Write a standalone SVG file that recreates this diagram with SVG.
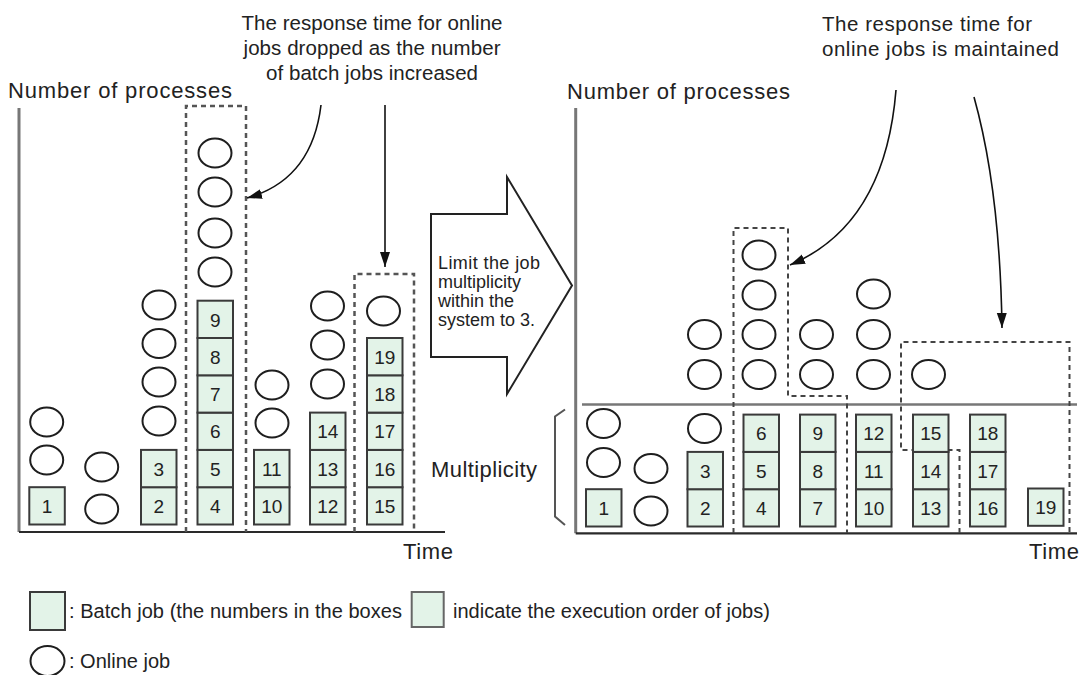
<svg xmlns="http://www.w3.org/2000/svg" width="1081" height="675" viewBox="0 0 1081 675">
<defs>
<style>
text{font-family:"Liberation Sans",Arial,sans-serif;fill:#222}
.lbl{font-size:22px}
.ann{font-size:20.5px}
.leg{font-size:20px}
.num{font-size:19px;text-anchor:middle}
.b{fill:#e3f3e8;stroke:#3a3a3a;stroke-width:2}
.c{fill:#fff;stroke:#1e1e1e;stroke-width:2}
.axy{stroke:#777;stroke-width:3;fill:none}
.axx{stroke:#2a2a2a;stroke-width:2.2;fill:none}
.dash{stroke:#444;stroke-width:2;stroke-dasharray:5 4;fill:none}
.dashL{stroke:#555;stroke-width:2.5;stroke-dasharray:5 4;fill:none}
.con{stroke:#111;stroke-width:1.6;fill:none}
</style>
<marker id="ah" markerWidth="16" markerHeight="12" refX="15" refY="6" orient="auto" markerUnits="userSpaceOnUse">
<path d="M0,1 L15,6 L0,11 Z" fill="#111"/>
</marker>
<symbol id="bx" overflow="visible"><rect class="b" x="0" y="0" width="35.5" height="37.3"/></symbol>
</defs>

<g id="labels">
<text class="lbl" x="8" y="98" textLength="224" lengthAdjust="spacing">Number of processes</text>
<text class="lbl" x="567" y="99" textLength="223" lengthAdjust="spacing">Number of processes</text>
<text class="lbl" x="403" y="559" textLength="50" lengthAdjust="spacing">Time</text>
<text class="lbl" x="1029" y="559" textLength="50" lengthAdjust="spacing">Time</text>
<text class="lbl" x="431" y="477" textLength="106" lengthAdjust="spacing">Multiplicity</text>
</g>

<g id="annotation-left">
<text class="ann" x="372" y="30" text-anchor="middle" textLength="261" lengthAdjust="spacing">The response time for online</text>
<text class="ann" x="372" y="55" text-anchor="middle" textLength="257" lengthAdjust="spacing">jobs dropped as the number</text>
<text class="ann" x="372" y="80" text-anchor="middle" textLength="212" lengthAdjust="spacing">of batch jobs increased</text>
</g>
<g id="annotation-right">
<text class="ann" x="822" y="31" textLength="210" lengthAdjust="spacing">The response time for</text>
<text class="ann" x="822" y="56" textLength="237" lengthAdjust="spacing">online jobs is maintained</text>
</g>

<g id="big-arrow">
<path d="M431,214 H507 V177 L572,285.5 L507,394 V357 H431 Z" fill="#fff" stroke="#222" stroke-width="2"/>
<text x="438" y="269" font-size="18" textLength="102" lengthAdjust="spacing">Limit the job</text>
<text x="438" y="288" font-size="18">multiplicity</text>
<text x="438" y="307" font-size="18">within the</text>
<text x="438" y="326" font-size="18">system to 3.</text>
</g>

<g id="chart-left">
<path class="axy" d="M19,108 V532"/>
<path class="axx" d="M19,532 H445"/>
<path class="dashL" d="M186,532 V106 H246 V532"/>
<path class="dashL" d="M354.5,532 V274 H414 V532"/>
<g id="L-col1">
<use href="#bx" x="29.3" y="487.2"/><text class="num" x="47" y="513">1</text>
<ellipse class="c" cx="46.7" cy="460" rx="16.5" ry="14.5"/>
<ellipse class="c" cx="46.7" cy="422" rx="16.5" ry="14.5"/>
</g>
<g id="L-col2">
<ellipse class="c" cx="101.7" cy="509" rx="16.5" ry="14.5"/>
<ellipse class="c" cx="101.7" cy="467" rx="16.5" ry="14.5"/>
</g>
<g id="L-col3">
<use href="#bx" x="141" y="487.2"/><text class="num" x="158.8" y="513">2</text>
<use href="#bx" x="141" y="449.9"/><text class="num" x="158.8" y="475.7">3</text>
<ellipse class="c" cx="159" cy="421" rx="16.5" ry="14.5"/>
<ellipse class="c" cx="159" cy="382" rx="16.5" ry="14.5"/>
<ellipse class="c" cx="159" cy="343.5" rx="16.5" ry="14.5"/>
<ellipse class="c" cx="159" cy="305" rx="16.5" ry="14.5"/>
</g>
<g id="L-col4">
<use href="#bx" x="197.5" y="487.2"/><text class="num" x="215.3" y="513">4</text>
<use href="#bx" x="197.5" y="449.9"/><text class="num" x="215.3" y="475.7">5</text>
<use href="#bx" x="197.5" y="412.6"/><text class="num" x="215.3" y="438.4">6</text>
<use href="#bx" x="197.5" y="375.3"/><text class="num" x="215.3" y="401.1">7</text>
<use href="#bx" x="197.5" y="338"/><text class="num" x="215.3" y="363.8">8</text>
<use href="#bx" x="197.5" y="300.7"/><text class="num" x="215.3" y="326.5">9</text>
<ellipse class="c" cx="215" cy="272" rx="16.5" ry="14.5"/>
<ellipse class="c" cx="215" cy="233" rx="16.5" ry="14.5"/>
<ellipse class="c" cx="215" cy="192" rx="16.5" ry="14.5"/>
<ellipse class="c" cx="215" cy="153" rx="16.5" ry="14.5"/>
</g>
<g id="L-col5">
<use href="#bx" x="254" y="487.2"/><text class="num" x="271.8" y="513">10</text>
<use href="#bx" x="254" y="449.9"/><text class="num" x="271.8" y="475.7">11</text>
<ellipse class="c" cx="272" cy="423" rx="16.5" ry="14.5"/>
<ellipse class="c" cx="272" cy="385" rx="16.5" ry="14.5"/>
</g>
<g id="L-col6">
<use href="#bx" x="310" y="487.2"/><text class="num" x="327.8" y="513">12</text>
<use href="#bx" x="310" y="449.9"/><text class="num" x="327.8" y="475.7">13</text>
<use href="#bx" x="310" y="412.6"/><text class="num" x="327.8" y="438.4">14</text>
<ellipse class="c" cx="327.5" cy="384" rx="16.5" ry="14.5"/>
<ellipse class="c" cx="327.5" cy="345" rx="16.5" ry="14.5"/>
<ellipse class="c" cx="327.5" cy="306" rx="16.5" ry="14.5"/>
</g>
<g id="L-col7">
<use href="#bx" x="367" y="487.2"/><text class="num" x="384.8" y="513">15</text>
<use href="#bx" x="367" y="449.9"/><text class="num" x="384.8" y="475.7">16</text>
<use href="#bx" x="367" y="412.6"/><text class="num" x="384.8" y="438.4">17</text>
<use href="#bx" x="367" y="375.3"/><text class="num" x="384.8" y="401.1">18</text>
<use href="#bx" x="367" y="338"/><text class="num" x="384.8" y="363.8">19</text>
<ellipse class="c" cx="383.5" cy="311" rx="16.5" ry="14.5"/>
</g>
</g>

<g id="chart-right">
<path class="axy" d="M575.7,108 V533.3"/>
<path class="axx" d="M575.7,533.3 H1077"/>
<path d="M582,404.5 H1077" stroke="#777" stroke-width="2.5" fill="none"/>
<path d="M565,409.5 L555,416.5 V516.5 L565,525" stroke="#555" stroke-width="2" fill="none"/>
<path class="dash" d="M733.5,533 V228 H788 V396 H847 V533"/>
<path class="dash" d="M959.5,533 V450 H901 V342 H1069.5 V533"/>
<g id="R-col1">
<use href="#bx" x="586" y="489.2"/><text class="num" x="603.8" y="515">1</text>
<ellipse class="c" cx="603.5" cy="462.5" rx="16.5" ry="14.5"/>
<ellipse class="c" cx="603.5" cy="423.5" rx="16.5" ry="14.5"/>
</g>
<g id="R-col2">
<ellipse class="c" cx="651" cy="511" rx="16.5" ry="14.5"/>
<ellipse class="c" cx="651" cy="468.5" rx="16.5" ry="14.5"/>
</g>
<g id="R-col3">
<use href="#bx" x="687.5" y="489.2"/><text class="num" x="705.3" y="515">2</text>
<use href="#bx" x="687.5" y="451.9"/><text class="num" x="705.3" y="477.7">3</text>
<ellipse class="c" cx="704.5" cy="428.5" rx="16.5" ry="14.5"/>
<ellipse class="c" cx="704.5" cy="374.5" rx="16.5" ry="14.5"/>
<ellipse class="c" cx="704.5" cy="334.5" rx="16.5" ry="14.5"/>
</g>
<g id="R-col4">
<use href="#bx" x="743.5" y="489.2"/><text class="num" x="761.3" y="515">4</text>
<use href="#bx" x="743.5" y="451.9"/><text class="num" x="761.3" y="477.7">5</text>
<use href="#bx" x="743.5" y="414.6"/><text class="num" x="761.3" y="440.4">6</text>
<ellipse class="c" cx="759" cy="374.5" rx="16.5" ry="14.5"/>
<ellipse class="c" cx="759" cy="334.5" rx="16.5" ry="14.5"/>
<ellipse class="c" cx="759" cy="295" rx="16.5" ry="14.5"/>
<ellipse class="c" cx="759" cy="255" rx="16.5" ry="14.5"/>
</g>
<g id="R-col5">
<use href="#bx" x="800" y="489.2"/><text class="num" x="817.8" y="515">7</text>
<use href="#bx" x="800" y="451.9"/><text class="num" x="817.8" y="477.7">8</text>
<use href="#bx" x="800" y="414.6"/><text class="num" x="817.8" y="440.4">9</text>
<ellipse class="c" cx="816.5" cy="374.5" rx="16.5" ry="14.5"/>
<ellipse class="c" cx="816.5" cy="334.5" rx="16.5" ry="14.5"/>
</g>
<g id="R-col6">
<use href="#bx" x="856" y="489.2"/><text class="num" x="873.8" y="515">10</text>
<use href="#bx" x="856" y="451.9"/><text class="num" x="873.8" y="477.7">11</text>
<use href="#bx" x="856" y="414.6"/><text class="num" x="873.8" y="440.4">12</text>
<ellipse class="c" cx="873.5" cy="374.5" rx="16.5" ry="14.5"/>
<ellipse class="c" cx="873.5" cy="334.5" rx="16.5" ry="14.5"/>
<ellipse class="c" cx="873.5" cy="294" rx="16.5" ry="14.5"/>
</g>
<g id="R-col7">
<use href="#bx" x="913" y="489.2"/><text class="num" x="930.8" y="515">13</text>
<use href="#bx" x="913" y="451.9"/><text class="num" x="930.8" y="477.7">14</text>
<use href="#bx" x="913" y="414.6"/><text class="num" x="930.8" y="440.4">15</text>
<ellipse class="c" cx="928.5" cy="374.5" rx="16.5" ry="14.5"/>
</g>
<g id="R-col8">
<use href="#bx" x="970" y="489.2"/><text class="num" x="987.8" y="515">16</text>
<use href="#bx" x="970" y="451.9"/><text class="num" x="987.8" y="477.7">17</text>
<use href="#bx" x="970" y="414.6"/><text class="num" x="987.8" y="440.4">18</text>
</g>
<g id="R-col9">
<use href="#bx" x="1028" y="488.5"/><text class="num" x="1045.8" y="514.3">19</text>
</g>
</g>

<g id="connectors">
<path class="con" d="M321,105 Q312,180 247,198" marker-end="url(#ah)"/>
<path class="con" d="M385,105 V267" marker-end="url(#ah)"/>
<path class="con" d="M896,90 Q885,225 790,265" marker-end="url(#ah)"/>
<path class="con" d="M974,97 Q1000,190 1002,328" marker-end="url(#ah)"/>
</g>

<g id="legend">
<rect class="b" x="30" y="592" width="35" height="38"/>
<text class="leg" x="69" y="618" textLength="333" lengthAdjust="spacing">: Batch job (the numbers in the boxes</text>
<rect class="b" x="411.7" y="592" width="32" height="35" style="stroke:#666"/>
<text class="leg" x="453" y="618">indicate the execution order of jobs)</text>
<ellipse class="c" cx="47.5" cy="661" rx="17" ry="15"/>
<text class="leg" x="69" y="668">: Online job</text>
</g>
</svg>
